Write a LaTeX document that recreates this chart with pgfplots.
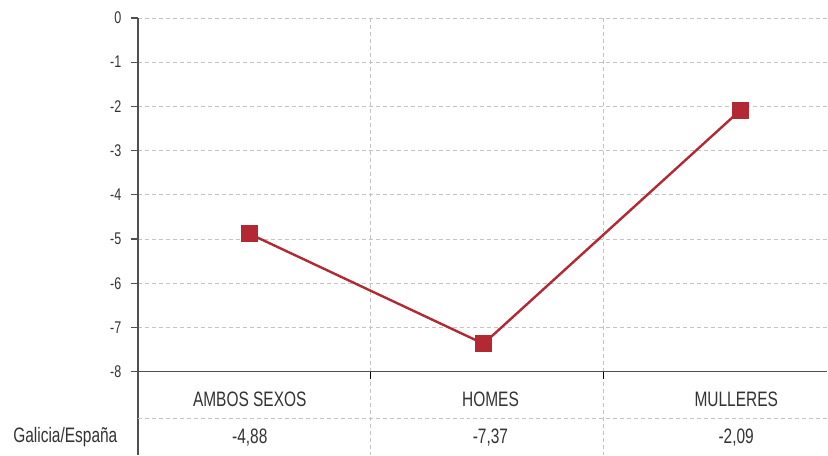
\documentclass[border=0pt]{standalone}
\usepackage{pgfplots}
\pgfplotsset{compat=1.18}
\usepackage{fontspec}
\setmainfont{Liberation Sans}[FakeStretch=0.74]
\definecolor{mred}{HTML}{B22833}
\definecolor{gridgray}{HTML}{C4C4C4}
\definecolor{axisgray}{HTML}{505050}
\definecolor{txt}{HTML}{333333}

\begin{document}
\begin{tikzpicture}
  % overall picture frame, 828 x 455
  \path (0,0) rectangle (828bp,455bp);
  \begin{axis}[
      at={(138bp,0bp)}, anchor=south west,
      scale only axis, width=690bp, height=437bp,
      xmin=138, xmax=828, ymin=-9.876, ymax=0,
      clip=false,
      axis x line=none,
      axis y line*=left,
      y axis line style={color=axisgray, line width=1.4bp},
      ytick={-8,-7,...,0},
      yticklabels={-8,-7,-6,-5,-4,-3,-2,-1,0},
      tick align=outside,
      major tick length=7bp,
      ytick style={color=axisgray, line width=1.2bp},
      yticklabel style={font=\fontsize{17}{17}\selectfont, text=txt, xshift=-6bp},
      ymajorgrids,
      grid style={color=gridgray, dash pattern=on 4bp off 3bp, line width=0.9bp},
    ]
    % vertical dashed separators through plot and table
    \draw[gridgray, dash pattern=on 4bp off 3bp, line width=0.9bp]
      (axis cs:371,0) -- (axis cs:371,-9.876)
      (axis cs:604,0) -- (axis cs:604,-9.876);
    % table separator
    \draw[gridgray, dash pattern=on 4bp off 3bp, line width=0.9bp]
      (axis cs:138,-9.062) -- (axis cs:828,-9.062);
    % category axis line at -8 with ticks
    \draw[axisgray, line width=1.8bp] (axis cs:138,-8) -- (axis cs:828,-8);
    \draw[black, line width=1.2bp]
      (axis cs:371,-8) -- (axis cs:371,-8.17)
      (axis cs:604,-8) -- (axis cs:604,-8.17);

    \addplot[color=mred, line width=2.4bp, mark=square*,
      mark options={solid, fill=mred, draw=mred}, mark size=7.3bp]
      coordinates {(249.5,-4.88) (484,-7.37) (741,-2.09)};

    % table text
    \begin{scope}[every node/.style={font=\fontsize{21}{21}\selectfont, text=txt}]
      \node at (axis cs:250,-8.633) {AMBOS SEXOS};
      \node at (axis cs:491,-8.633) {HOMES};
      \node at (axis cs:737,-8.633) {MULLERES};
      \node at (axis cs:250,-9.49) {-4,88};
      \node at (axis cs:491,-9.49) {-7,37};
      \node at (axis cs:737,-9.49) {-2,09};
      \node[anchor=east] at (axis cs:121,-9.49) {Galicia/España};
    \end{scope}
  \end{axis}
\end{tikzpicture}
\end{document}
